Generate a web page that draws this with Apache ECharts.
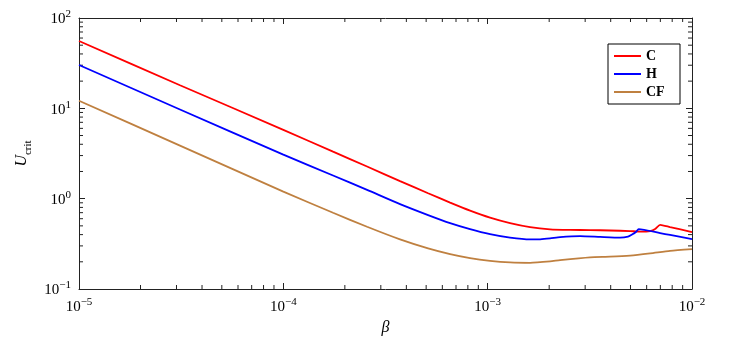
<!DOCTYPE html>
<html>
<head>
<meta charset="utf-8">
<script src="https://cdn.jsdelivr.net/npm/echarts@6/dist/echarts.min.js"></script>
<style>
  html, body { margin: 0; padding: 0; background: #fff; }
  #chart { width: 734px; height: 342px; }
</style>
</head>
<body>
<div id="chart"></div>
<script>
// beta / U_crit
var betaC = [1e-5, 3.12e-5, 1e-4, 1.751e-4, 2.569e-4, 3.725e-4, 5.11e-4, 6.55e-4, 8.2e-4, 1.027e-3, 1.287e-3, 1.613e-3, 2.02e-3, 2.53e-3, 3.17e-3, 3.97e-3, 4.98e-3, 5.57e-3, 6.24e-3, 6.6e-3, 6.98e-3, 7.81e-3, 1e-2];
var uC = [55.6, 18.03, 5.78, 3.316, 2.268, 1.566, 1.148, 0.905, 0.738, 0.6175, 0.537, 0.4848, 0.4583, 0.4514, 0.4491, 0.4445, 0.4377, 0.4322, 0.4377, 0.4606, 0.514, 0.4848, 0.4267];

var betaH = [1e-5, 3.12e-5, 1e-4, 1.751e-4, 2.569e-4, 3.725e-4, 5.11e-4, 6.55e-4, 8.2e-4, 1.027e-3, 1.287e-3, 1.613e-3, 1.805e-3, 2.02e-3, 2.262e-3, 2.834e-3, 3.55e-3, 4.447e-3, 4.866e-3, 5.09e-3, 5.33e-3, 5.48e-3, 6.98e-3, 7.81e-3, 1e-2];
var uH = [30.17, 9.7, 3.078, 1.803, 1.252, 0.871, 0.6587, 0.5365, 0.4604, 0.4054, 0.3707, 0.3542, 0.3551, 0.3634, 0.3757, 0.3853, 0.3776, 0.3709, 0.3804, 0.4002, 0.4299, 0.4606, 0.4159, 0.3963, 0.3569];

var betaCF = [1e-5, 3.12e-5, 1e-4, 1.751e-4, 2.569e-4, 3.725e-4, 5.11e-4, 6.55e-4, 8.2e-4, 1.027e-3, 1.287e-3, 1.613e-3, 2.02e-3, 2.262e-3, 3.17e-3, 3.97e-3, 4.98e-3, 6.24e-3, 7.81e-3, 1e-2];
var uCF = [12.14, 3.863, 1.198, 0.698, 0.4885, 0.3542, 0.2816, 0.2434, 0.2199, 0.2052, 0.197, 0.195, 0.2021, 0.2089, 0.2244, 0.2279, 0.2344, 0.2478, 0.2642, 0.2766];

var xMin = 1e-5, xMax = 1e-2;
var yMin = 0.1, yMax = 100;

// minor ticks 2..9 per decade
var xMinor = [];
for (var d = -5; d < -2; d++) for (var m = 2; m <= 9; m++) xMinor.push([m * Math.pow(10, d), 1]);
var yMinor = [];
for (var d2 = -1; d2 < 2; d2++) for (var m2 = 2; m2 <= 9; m2++) yMinor.push([1e-4, m2 * Math.pow(10, d2)]);

function pairs(xs, ys) {
  return xs.map(function (x, i) { return [x, ys[i]]; });
}

var serif = '"Liberation Serif", "DejaVu Serif", serif';
var axisColor = '#222';

function powLabel(v) {
  var e = Math.round(Math.log10(v));
  var s = e < 0 ? '\u2212' + (-e) : String(e);
  return '{b|10}{e|' + s + '}';
}
var labelRich = {
  b: { fontFamily: serif, fontSize: 15, color: '#000', verticalAlign: 'bottom', lineHeight: 18 },
  e: { fontFamily: serif, fontSize: 11, color: '#000', verticalAlign: 'top', lineHeight: 18 }
};

function logAxis(min, max, pos, showLabel) {
  return {
    type: 'log', logBase: 10, min: min, max: max, position: pos,
    axisLine: { show: true, onZero: false, lineStyle: { color: axisColor, width: 1 } },
    axisTick: { show: true, inside: true, length: 6, lineStyle: { color: axisColor } },
    splitLine: { show: false },
    axisLabel: { show: showLabel, formatter: powLabel, rich: labelRich, margin: 8 }
  };
}

var xBottom = logAxis(xMin, xMax, 'bottom', true);
xBottom.name = '\u03b2';
xBottom.nameLocation = 'middle';
xBottom.nameGap = 30;
xBottom.nameTextStyle = { fontFamily: serif, fontStyle: 'italic', fontSize: 16, color: '#000' };

var yLeft = logAxis(yMin, yMax, 'left', true);
yLeft.name = '{u|U}{s|crit}';
yLeft.nameLocation = 'middle';
yLeft.nameRotate = 90;
yLeft.nameGap = 44;
yLeft.nameTextStyle = {
  rich: {
    u: { fontFamily: serif, fontStyle: 'italic', fontSize: 16, color: '#000', verticalAlign: 'top', lineHeight: 20 },
    s: { fontFamily: serif, fontSize: 11, color: '#000', verticalAlign: 'bottom', lineHeight: 20 }
  }
};

function minorTicks(horizontal) {
  return function (params, api) {
    var v = api.value(horizontal ? 0 : 1);
    var a, b, len = 4, st = { stroke: axisColor, lineWidth: 1 };
    if (horizontal) {
      a = api.coord([v, yMin]);
      b = api.coord([v, yMax]);
      return { type: 'group', children: [
        { type: 'line', shape: { x1: a[0], y1: a[1], x2: a[0], y2: a[1] - len }, style: st },
        { type: 'line', shape: { x1: b[0], y1: b[1], x2: b[0], y2: b[1] + len }, style: st }
      ] };
    }
    a = api.coord([xMin, v]);
    b = api.coord([xMax, v]);
    return { type: 'group', children: [
      { type: 'line', shape: { x1: a[0], y1: a[1], x2: a[0] + len, y2: a[1] }, style: st },
      { type: 'line', shape: { x1: b[0], y1: b[1], x2: b[0] - len, y2: b[1] }, style: st }
    ] };
  };
}

function curve(name, color, data) {
  return {
    name: name, type: 'line', data: data, symbol: 'none', smooth: 0.2,
    lineStyle: { color: color, width: 1.8 }, itemStyle: { color: color }, z: 3
  };
}

var chart = echarts.init(document.getElementById('chart'), null, { renderer: 'canvas' });
chart.setOption({
  animation: false,
  backgroundColor: '#fff',
  grid: { left: 79, right: 42, top: 18, bottom: 53 },
  xAxis: [xBottom, logAxis(xMin, xMax, 'top', false)],
  yAxis: [yLeft, logAxis(yMin, yMax, 'right', false)],
  legend: {
    data: ['C', 'H', 'CF'],
    icon: 'rect',
    orient: 'vertical', left: 608, top: 44,
    itemWidth: 27, itemHeight: 2, itemGap: 2,
    padding: [4, 8, 4, 6],
    borderColor: '#000', borderWidth: 1, borderRadius: 0,
    backgroundColor: '#fff',
    textStyle: { fontFamily: serif, fontWeight: 'bold', fontSize: 14, color: '#000', width: 26, align: 'center', lineHeight: 16 }
  },
  series: [
    curve('C', '#ff0000', pairs(betaC, uC)),
    curve('H', '#0000ff', pairs(betaH, uH)),
    curve('CF', '#bf8040', pairs(betaCF, uCF)),
    { type: 'custom', silent: true, renderItem: minorTicks(true), data: xMinor, clip: false, z: 2 },
    { type: 'custom', silent: true, renderItem: minorTicks(false), data: yMinor, clip: false, z: 2 }
  ]
});
</script>
</body>
</html>
